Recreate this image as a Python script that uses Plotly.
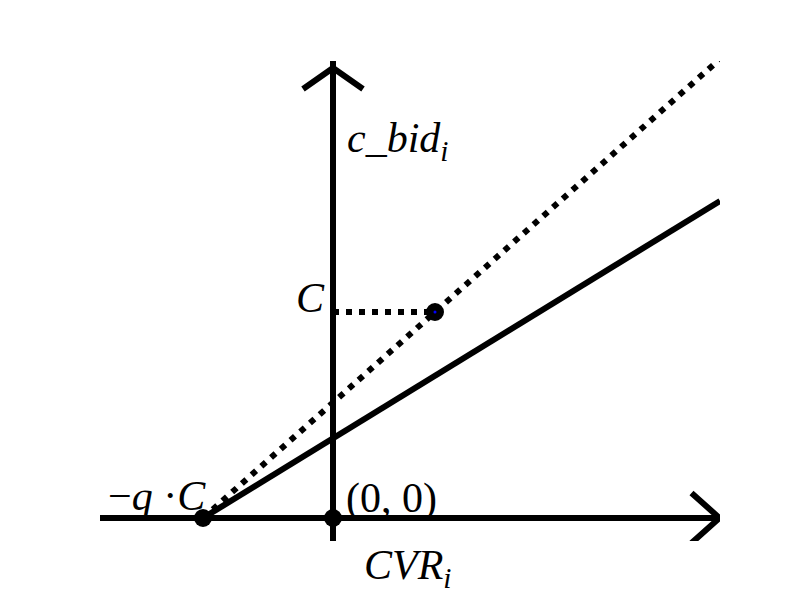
import plotly.graph_objects as go

# Data (units where 1.0 = 100 px in the reference)
x_range = [-2.33, 3.87]
y_range = [-0.23, 4.57]
neg_qC = -1.30            # x position of -q*C
point_C = (1.02, 2.06)    # point on the dotted line at height C
solid_end_y = 3.17        # height of solid line at right edge
dotted_end_y = 4.59       # height of dotted line at right edge
arrow_h = (0.28, 0.25)    # horizontal arrow arm (dx, dy)
arrow_v = (0.30, 0.21)    # vertical arrow arm (dx, dy)

FONT = "Liberation Serif"
fig = go.Figure()

blk = "black"
# axes
fig.add_trace(go.Scatter(x=[x_range[0], x_range[1]], y=[0, 0], mode="lines",
                         line=dict(color=blk, width=6)))
fig.add_trace(go.Scatter(x=[0, 0], y=[y_range[0], y_range[1]], mode="lines",
                         line=dict(color=blk, width=6)))
# arrowheads
xt = x_range[1] - 0.005
fig.add_trace(go.Scatter(x=[xt - arrow_h[0], xt, xt - arrow_h[0]],
                         y=[arrow_h[1], 0, -arrow_h[1]], mode="lines",
                         line=dict(color=blk, width=6)))
yt = y_range[1] - 0.07
fig.add_trace(go.Scatter(x=[-arrow_v[0], 0, arrow_v[0]],
                         y=[yt - arrow_v[1], yt, yt - arrow_v[1]], mode="lines",
                         line=dict(color=blk, width=6)))
# solid line
fig.add_trace(go.Scatter(x=[neg_qC, x_range[1]], y=[0, solid_end_y], mode="lines",
                         line=dict(color=blk, width=6)))
# dotted line
fig.add_trace(go.Scatter(x=[neg_qC, x_range[1]], y=[0, dotted_end_y], mode="lines",
                         line=dict(color=blk, width=6, dash="6px,7px")))
# horizontal dotted at C
fig.add_trace(go.Scatter(x=[0, point_C[0]], y=[point_C[1], point_C[1]], mode="lines",
                         line=dict(color=blk, width=6, dash="6px,7px")))
# markers
fig.add_trace(go.Scatter(x=[neg_qC, 0], y=[0, 0], mode="markers",
                         marker=dict(color=blk, size=18), cliponaxis=False))
fig.add_trace(go.Scatter(x=[point_C[0]], y=[point_C[1]], mode="markers",
                         marker=dict(color="blue", size=10.5,
                                     line=dict(color=blk, width=7.5)),
                         cliponaxis=False))

fs = 42
ann = [
    dict(x=0.12, y=3.77, text="<i>c</i>_<i>bid</i><sub><i>i</i></sub>", xanchor="left", ys=0),
    dict(x=-0.06, y=2.2, text="<i>C</i>", xanchor="right", ys=0),
    dict(x=-1.25, y=0.22, text="−<i>q</i> ·<i>C</i>", xanchor="right", ys=0),
    dict(x=0.11, y=0.2, text="(0, 0)", xanchor="left", ys=0),
    dict(x=0.29, y=y_range[0], text="<i>CVR</i><sub><i>i</i></sub>", xanchor="left", ys=-27),
]
for a in ann:
    fig.add_annotation(x=a["x"], y=a["y"], text=a["text"], xanchor=a["xanchor"],
                       yanchor="middle", yshift=a["ys"], showarrow=False,
                       font=dict(family=FONT, size=fs, color=blk))

fig.update_layout(
    width=800, height=600, showlegend=False,
    margin=dict(l=92, r=88, t=53, b=67),
    paper_bgcolor="white", plot_bgcolor="white",
    xaxis=dict(range=x_range, visible=False, fixedrange=True),
    yaxis=dict(range=y_range, visible=False, fixedrange=True),
)
fig.write_html("out.html")
